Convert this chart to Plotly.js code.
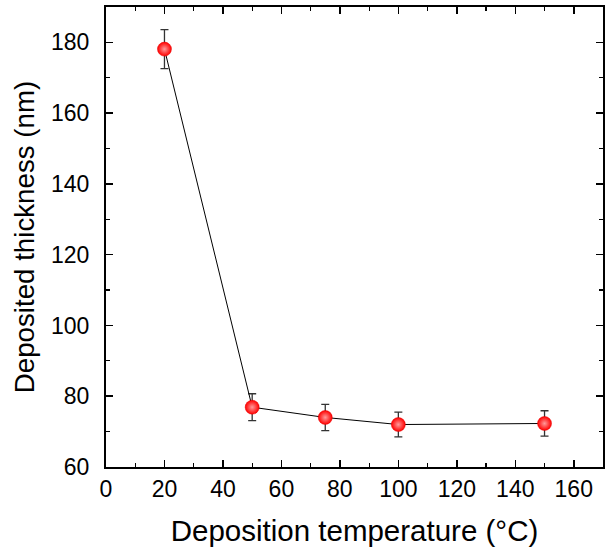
<!DOCTYPE html>
<html>
<head>
<meta charset="utf-8">
<script src="https://cdn.plot.ly/plotly-3.0.1.min.js"></script>
<style>html,body{margin:0;padding:0;background:#fff;}#chart{width:605px;height:550px;}</style>
</head>
<body>
<div id="chart"></div>
<script>
const temperatures = [20, 50, 75, 100, 150];
const thickness = [178.1, 76.9, 74.0, 72.0, 72.3];
const thicknessErr = [5.5, 3.8, 3.7, 3.5, 3.6];
const xTickVals = [0, 20, 40, 60, 80, 100, 120, 140, 160];
const yTickVals = [60, 80, 100, 120, 140, 160, 180];

const font = "Liberation Sans, Arial, sans-serif";

const trace = {
  x: temperatures,
  y: thickness,
  type: 'scatter',
  mode: 'lines+markers',
  line: {color: '#000', width: 1},
  marker: {
    size: 14,
    color: '#ff0000',
    gradient: {type: 'radial', color: '#ff9a9a'},
    line: {width: 0.5, color: '#e80000'}
  },
  error_y: {
    type: 'data',
    array: thicknessErr,
    visible: true,
    color: '#333',
    thickness: 1.3,
    width: 4
  },
  hoverinfo: 'skip'
};

const axisCommon = {
  showgrid: false,
  zeroline: false,
  showline: true,
  linecolor: '#000',
  linewidth: 2,
  mirror: 'ticks',
  ticks: 'inside',
  ticklen: 7,
  tickwidth: 1.5,
  tickcolor: '#000',
  tickfont: {family: font, size: 23, color: '#000'},
  minor: {ticks: 'inside', ticklen: 4, tickwidth: 1.2, tickcolor: '#000', dtick: 10, showgrid: false}
};

const layout = {
  width: 605,
  height: 550,
  margin: {l: 106, r: 2, t: 7, b: 83},
  paper_bgcolor: '#fff',
  plot_bgcolor: '#fff',
  showlegend: false,
  xaxis: Object.assign({}, axisCommon, {
    range: [0, 170],
    tickvals: xTickVals,
    ticktext: xTickVals.map(String),
    title: {text: 'Deposition temperature (°C)', font: {family: font, size: 29.5, color: '#000'}, standoff: 20}
  }),
  yaxis: Object.assign({}, axisCommon, {
    range: [60, 190],
    tickvals: yTickVals,
    ticktext: yTickVals.map(String),
    ticklabelstandoff: 10,
    title: {text: 'Deposited thickness (nm)', font: {family: font, size: 27.7, color: '#000'}, standoff: 8}
  })
};

Plotly.newPlot('chart', [trace], layout, {staticPlot: true, displayModeBar: false});
</script>
</body>
</html>
